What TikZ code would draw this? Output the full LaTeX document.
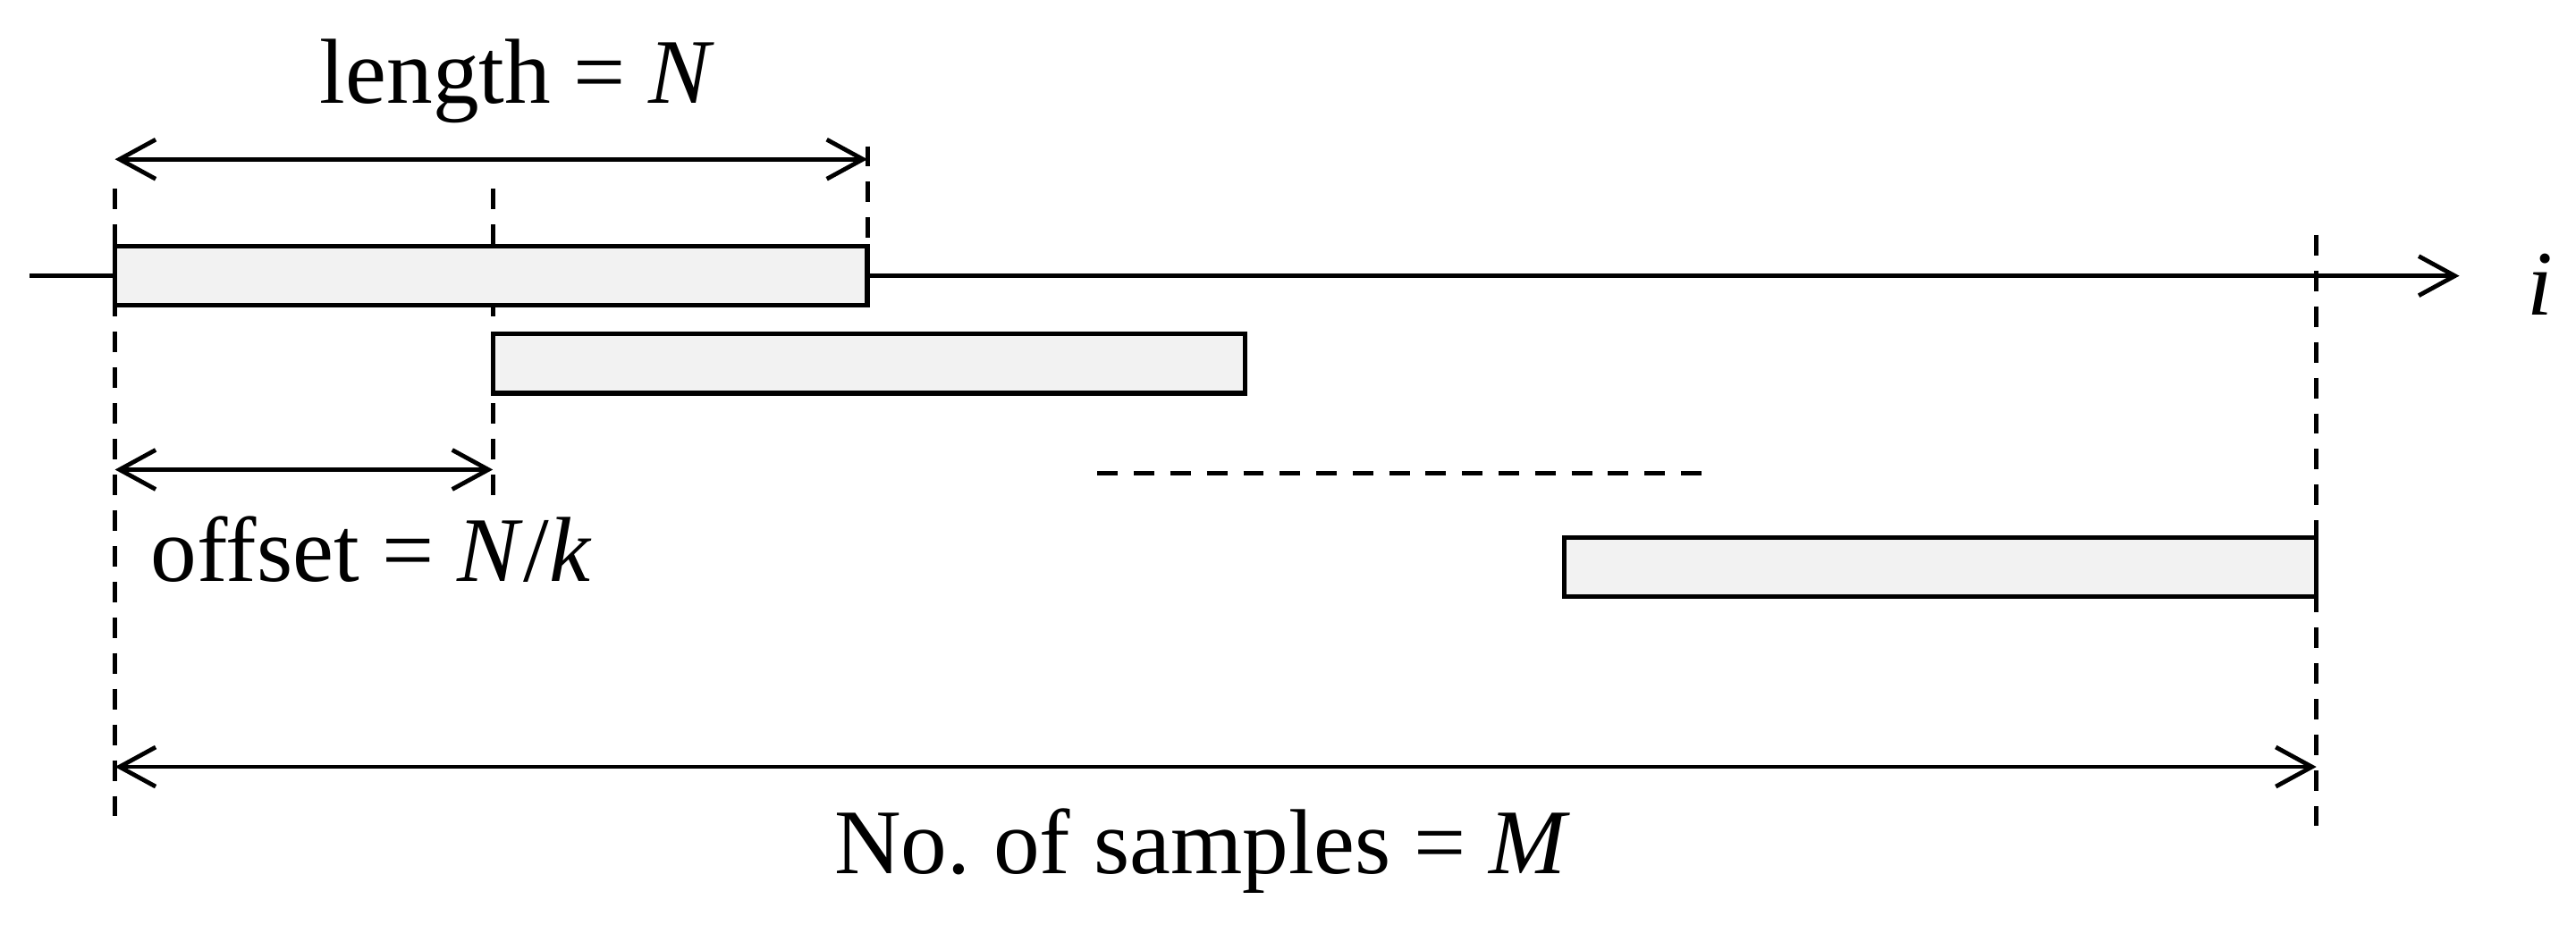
\documentclass[tikz,border=0pt]{standalone}
\usepackage{fontspec}
\setmainfont{Liberation Serif}
\usetikzlibrary{arrows.meta}
\definecolor{boxgray}{RGB}{242,242,242}
\begin{document}
\begin{tikzpicture}[x=0.02cm,y=-0.02cm,
  line width=1.5pt,
  win/.style={draw=black, fill=boxgray, rectangle, inner sep=0pt,
    minimum height=0.72cm, minimum width=9.16cm, line width=1.6pt},
  guide/.style={dash pattern=on 0.25cm off 0.185cm, line width=1.5pt},
  dimarrow/.style={{Straight Barb[length=0.44cm,width=0.48cm]}-{Straight Barb[length=0.44cm,width=0.48cm]}, line width=1.5pt},
  axisarrow/.style={-{Straight Barb[length=0.44cm,width=0.48cm]}, line width=1.5pt},
  lbl/.style={font=\fontsize{32}{38}\selectfont, inner sep=0pt, anchor=base}]
\useasboundingbox (0,0) rectangle (1568,563);

% coordinates
\coordinate (ax0) at (18,168);
\coordinate (ax1) at (1497,168);
\coordinate (g1t) at (70,115);   \coordinate (g1b) at (70,503);
\coordinate (g2t) at (300,115);  \coordinate (g2b) at (300,310);
\coordinate (g3t) at (528,89);   \coordinate (g3b) at (528,150);
\coordinate (g4t) at (1410,143); \coordinate (g4b) at (1410,503);
\coordinate (dt0) at (668,288);  \coordinate (dt1) at (1036,288);
\coordinate (len0) at (70,97);   \coordinate (len1) at (528,97);
\coordinate (off0) at (70,286);  \coordinate (off1) at (300,286);
\coordinate (m0) at (70,467);    \coordinate (m1) at (1410,467);

% axis
\draw[axisarrow] (ax0) -- (ax1);
\node[lbl, font=\fontsize{32}{38}\selectfont\itshape] (ilbl) at (1546,192) {i};

% guide lines
\draw[guide] (g1t) -- (g1b);
\draw[guide] (g2t) -- (g2b);
\draw[guide] (g3t) -- (g3b);
\draw[guide] (g4t) -- (g4b);
\draw[guide, dash pattern=on 0.25cm off 0.194cm] (dt0) -- (dt1);

% windows
\node[win] (b1) at (299,168) {};
\node[win] (b2) at (529,221.5) {};
\node[win] (b3) at (1181,345.5) {};

% dimension arrows
\draw[dimarrow] (len0) -- (len1);
\draw[dimarrow] (off0) -- (off1);
\draw[dimarrow] (m0) -- (m1);

% labels
\node[lbl] (lenlbl) at (315,63) {length = \textit{N}};
\node[lbl] (offlbl) at (226,354) {offset = \textit{N}/\textit{k}};
\node[lbl] (mlbl) at (732,532) {No.\ of samples = \textit{M}};
\end{tikzpicture}
\end{document}
